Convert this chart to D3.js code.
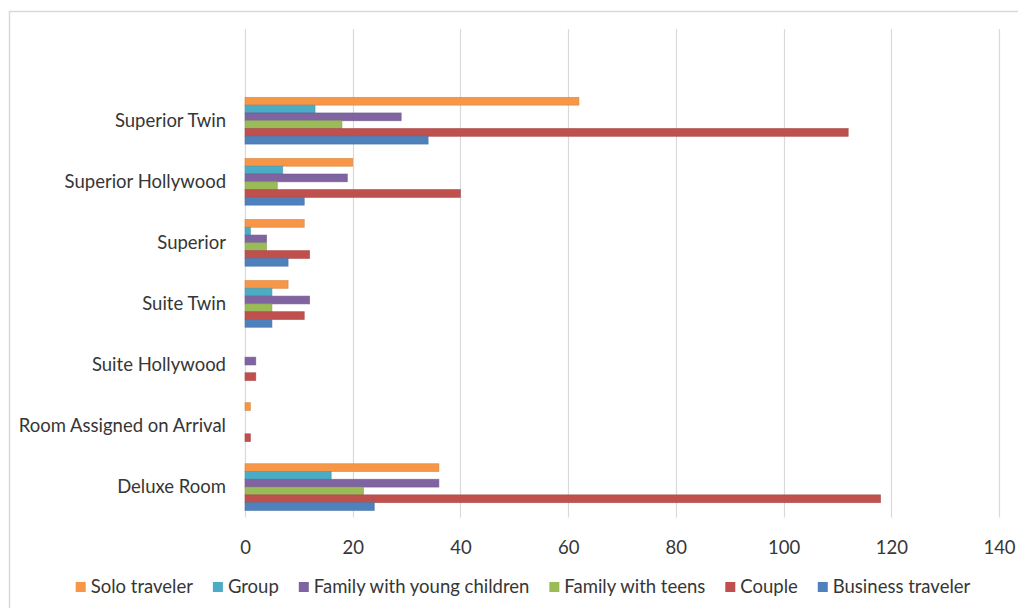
<!DOCTYPE html>
<html>
<head>
<meta charset="utf-8">
<script src="https://cdn.jsdelivr.net/npm/d3@7"></script>
<style>
  html, body { margin: 0; padding: 0; background: #fff; }
  svg { display: block; font-family: Lato, "Liberation Sans", sans-serif; }
</style>
</head>
<body>
<svg id="chart" width="1018" height="608"></svg>
<script>
// Room types, listed top to bottom
const roomTypes = ["Superior Twin", "Superior Hollywood", "Superior", "Suite Twin",
                   "Suite Hollywood", "Room Assigned on Arrival", "Deluxe Room"];

// Traveler types, in bar order within each group (top to bottom) and legend order
const travelerTypes = ["Solo traveler", "Group", "Family with young children",
                       "Family with teens", "Couple", "Business traveler"];

// Counts per traveler type, aligned with roomTypes
const soloTraveler     = [62, 20, 11, 8, 0, 1, 36];
const group            = [13, 7, 1, 5, 0, 0, 16];
const familyYoung      = [29, 19, 4, 12, 2, 0, 36];
const familyTeens      = [18, 6, 4, 5, 0, 0, 22];
const couple           = [112, 40, 12, 11, 2, 1, 118];
const businessTraveler = [34, 11, 8, 5, 0, 0, 24];

const xTicks = [0, 20, 40, 60, 80, 100, 120, 140];

const seriesValues = [soloTraveler, group, familyYoung, familyTeens, couple, businessTraveler];
const colors = ["#F79646", "#4BACC6", "#8064A2", "#9BBB59", "#C0504D", "#4F81BD"];

const rows = [];
roomTypes.forEach((room, i) => {
  travelerTypes.forEach((t, j) => {
    rows.push({ room, traveler: t, value: seriesValues[j][i], color: colors[j] });
  });
});

const svg = d3.select("#chart");
const textColor = "#363636";
const fontSize = 18.5;

// Outer chart frame
svg.append("path")
  .attr("d", "M9.5,608 L9.5,11.5 L1018,11.5")
  .attr("fill", "none")
  .attr("stroke", "#d9d9d9")
  .attr("stroke-width", 1.5);

const plot = { left: 245, right: 999, top: 29, bottom: 517.6 };

const x = d3.scaleLinear().domain([0, 140]).range([plot.left, plot.right]);

const y0 = d3.scaleBand()
  .domain(roomTypes)
  .range([90.2, plot.bottom])
  .paddingInner(0.235)
  .paddingOuter(0.1175);

const y1 = d3.scaleBand()
  .domain(travelerTypes)
  .range([0, y0.bandwidth()]);

// Vertical gridlines
svg.append("g")
  .selectAll("line")
  .data(xTicks)
  .join("line")
  .attr("x1", d => Math.round(x(d)) + 0.5)
  .attr("x2", d => Math.round(x(d)) + 0.5)
  .attr("y1", plot.top)
  .attr("y2", plot.bottom)
  .attr("stroke", "#d9d9d9")
  .attr("stroke-width", 1.2);

// Bars
svg.append("g")
  .selectAll("rect")
  .data(rows.filter(d => d.value > 0))
  .join("rect")
  .attr("x", x(0))
  .attr("y", d => y0(d.room) + y1(d.traveler))
  .attr("width", d => x(d.value) - x(0))
  .attr("height", y1.bandwidth())
  .attr("fill", d => d.color)
  .attr("stroke", d => d3.color(d.color).darker(0.4))
  .attr("stroke-opacity", 0.7)
  .attr("stroke-width", 0.8);

// X axis tick labels
const xAxis = d3.axisBottom(x).tickValues(xTicks).tickSize(0).tickPadding(0);
const xg = svg.append("g")
  .attr("transform", `translate(0, ${plot.bottom + 23})`)
  .call(xAxis);
xg.select(".domain").remove();
xg.selectAll("text")
  .attr("font-size", fontSize)
  .attr("fill", textColor)
  .attr("dy", "0.71em")
  .attr("font-family", "Lato, 'Liberation Sans', sans-serif");

// Category labels
const yAxis = d3.axisLeft(y0).tickSize(0).tickPadding(0);
const yg = svg.append("g")
  .attr("transform", `translate(${plot.left - 19}, 0)`)
  .call(yAxis);
yg.select(".domain").remove();
yg.selectAll("text")
  .attr("font-size", fontSize)
  .attr("fill", textColor)
  .attr("font-family", "Lato, 'Liberation Sans', sans-serif");

// Legend
const legend = svg.append("g").attr("transform", "translate(0, 587)");
const items = legend.selectAll("g")
  .data(travelerTypes)
  .join("g");
items.append("rect")
  .attr("y", -5)
  .attr("width", 10)
  .attr("height", 10)
  .attr("fill", (d, i) => colors[i]);
items.append("text")
  .attr("x", 15)
  .attr("dy", "0.35em")
  .attr("font-size", fontSize)
  .attr("fill", textColor)
  .text(d => d);

const gap = 20;
let widths = [];
items.each(function () {
  widths.push(15 + d3.select(this).select("text").node().getComputedTextLength());
});
const total = d3.sum(widths) + gap * (widths.length - 1);
let cx = 523 - total / 2;
items.attr("transform", (d, i) => {
  const t = `translate(${cx}, 0)`;
  cx += widths[i] + gap;
  return t;
});
</script>
</body>
</html>
